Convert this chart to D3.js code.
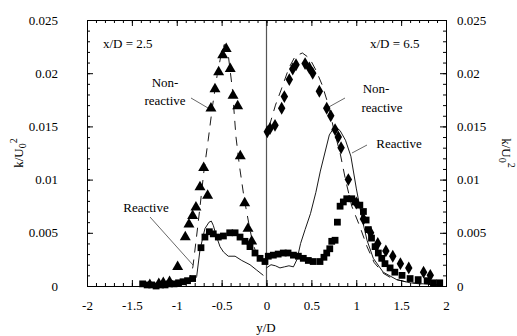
<!DOCTYPE html>
<html><head><meta charset="utf-8">
<script src="https://cdn.jsdelivr.net/npm/d3@7"></script>
<style>body{margin:0;background:#fff}svg{display:block}</style>
</head><body>
<svg id="c" width="517" height="336"></svg>
<script>
// ---- data ----
const xTicks = [-2, -1.5, -1, -0.5, 0, 0.5, 1, 1.5, 2];
const yTicks = [0, 0.005, 0.01, 0.015, 0.02, 0.025];
const yTickLabels = ["0", "0.005", "0.01", "0.015", "0.02", "0.025"];

// x/D = 2.5, non-reactive (triangles)
const tri25X = [-1.3, -1.2, -1.15, -1.08, -0.99, -0.905, -0.864, -0.823, -0.786, -0.741, -0.70, -0.656, -0.619, -0.574, -0.533, -0.488, -0.449, -0.404, -0.373, -0.321, -0.292, -0.243, -0.206, -0.165];
const tri25Y = [0.0001, 0.0002, 0.0003, 0.0004, 0.0018, 0.0046, 0.0058, 0.0066, 0.0074, 0.0093, 0.0111, 0.0085, 0.0167, 0.0185, 0.0201, 0.0217, 0.0223, 0.0204, 0.0179, 0.0169, 0.0122, 0.0078, 0.0054, 0.0042];
// x/D = 2.5, non-reactive dashed curve
const dash25X = [-0.87, -0.82, -0.78, -0.74, -0.70, -0.65, -0.60, -0.55, -0.50, -0.47, -0.43, -0.38, -0.34, -0.30, -0.25, -0.20, -0.16, -0.12];
const dash25Y = [0.0002, 0.0018, 0.0046, 0.0075, 0.0106, 0.0137, 0.0170, 0.0198, 0.0220, 0.0227, 0.0220, 0.0185, 0.0140, 0.0112, 0.0083, 0.0060, 0.0043, 0.0032];
// x/D = 2.5, reactive (squares)
const sq25X = [-1.38, -1.33, -1.28, -1.23, -1.18, -1.13, -1.08, -1.03, -0.98, -0.93, -0.88, -0.823, -0.73, -0.686, -0.637, -0.593, -0.537, -0.48, -0.41, -0.35, -0.295, -0.24, -0.184, -0.128, -0.072, -0.017];
const sq25Y = [0.0002, 0.0001, 0.0001, 0.0000, 0.0001, 0.0001, 0.0002, 0.0002, 0.0003, 0.0004, 0.0005, 0.0007, 0.0036, 0.0046, 0.0051, 0.0049, 0.0046, 0.0047, 0.0050, 0.0050, 0.0046, 0.0042, 0.0037, 0.0031, 0.0026, 0.0023];
// x/D = 2.5, reactive solid curve
const sol25X = [-1.05, -0.95, -0.85, -0.80, -0.778, -0.741, -0.686, -0.64, -0.615, -0.593, -0.555, -0.518, -0.48, -0.426, -0.35, -0.276, -0.184, -0.11, -0.035];
const sol25Y = [0.0001, 0.0002, 0.0004, 0.0006, 0.0009, 0.0034, 0.0054, 0.0060, 0.0061, 0.0057, 0.0046, 0.0037, 0.0032, 0.0028, 0.0028, 0.0024, 0.0020, 0.0015, 0.0010];

// x/D = 6.5, non-reactive (diamonds)
const dia65X = [0.009, 0.039, 0.095, 0.169, 0.199, 0.254, 0.292, 0.329, 0.43, 0.477, 0.515, 0.589, 0.671, 0.716, 0.764, 0.80, 0.831, 0.912, 1.0, 1.08, 1.16, 1.24, 1.33, 1.407, 1.492, 1.585, 1.75, 1.825];
const dia65Y = [0.0145, 0.0148, 0.0151, 0.0167, 0.0178, 0.0194, 0.0204, 0.0208, 0.0209, 0.0205, 0.0200, 0.0183, 0.0167, 0.0160, 0.0147, 0.0140, 0.0130, 0.0100, 0.0078, 0.0063, 0.0050, 0.0040, 0.0033, 0.0028, 0.0021, 0.0017, 0.0013, 0.0010];
// x/D = 6.5, non-reactive dashed curve
const dash65X = [0.03, 0.10, 0.17, 0.25, 0.32, 0.40, 0.48, 0.55, 0.62, 0.69, 0.75, 0.82, 0.88, 0.95, 1.04, 1.12, 1.20, 1.30, 1.40, 1.55, 1.70, 1.90];
const dash65Y = [0.0150, 0.0170, 0.0186, 0.0205, 0.0216, 0.0219, 0.0214, 0.0203, 0.0189, 0.0170, 0.0147, 0.0125, 0.0100, 0.0075, 0.0056, 0.0037, 0.0022, 0.0012, 0.0007, 0.0004, 0.0002, 0.0001];
// x/D = 6.5, reactive (squares)
const sq65X = [0.02, 0.076, 0.13, 0.187, 0.24, 0.30, 0.355, 0.41, 0.466, 0.52, 0.596, 0.64, 0.671, 0.705, 0.727, 0.764, 0.79, 0.82, 0.856, 0.894, 0.95, 0.987, 1.04, 1.08, 1.11, 1.135, 1.17, 1.21, 1.246, 1.284, 1.32, 1.377, 1.43, 1.51, 1.60, 1.69, 1.79, 1.86, 1.93];
const sq65Y = [0.0028, 0.0029, 0.0030, 0.0031, 0.0031, 0.0029, 0.0028, 0.0026, 0.0024, 0.0023, 0.0023, 0.0027, 0.0031, 0.0035, 0.0042, 0.0043, 0.0060, 0.0075, 0.0079, 0.0082, 0.0082, 0.0079, 0.0076, 0.0070, 0.0062, 0.0053, 0.0045, 0.0037, 0.0031, 0.0026, 0.0021, 0.0017, 0.0013, 0.0010, 0.0007, 0.0006, 0.0005, 0.0003, 0.0003];
// x/D = 6.5, reactive solid curve
const sol65X = [0.0, 0.05, 0.10, 0.15, 0.20, 0.25, 0.30, 0.34, 0.38, 0.43, 0.49, 0.55, 0.60, 0.65, 0.70, 0.76, 0.82, 0.88, 0.94, 1.0, 1.06, 1.12, 1.19, 1.30, 1.45, 1.60, 1.75, 1.90];
const sol65Y = [0.0017, 0.0020, 0.0019, 0.0017, 0.0018, 0.0019, 0.0018, 0.0025, 0.0040, 0.0053, 0.0068, 0.0088, 0.0108, 0.0125, 0.0142, 0.0150, 0.0146, 0.0137, 0.0122, 0.0092, 0.0065, 0.0043, 0.0026, 0.0013, 0.0006, 0.0003, 0.0002, 0.0001];

// ---- layout ----
const svg = d3.select("#c");
const L = 87, R = 446, T = 20, B = 286;
const x = d3.scaleLinear().domain([-2, 2]).range([L, R]);
const y = d3.scaleLinear().domain([0, 0.025]).range([B, T]);
const zip = (a, b) => a.map((v, i) => [v, b[i]]);
const FONT = "Liberation Serif";

svg.append("line").attr("x1", x(0)).attr("x2", x(0)).attr("y1", T).attr("y2", B)
  .attr("stroke", "#555").attr("stroke-width", 1.2);

const xMinor = d3.range(-20, 21).map(d => d / 10);
const yMinor = d3.range(0, 26).map(d => d / 1000);
function ax(gen, tx, ty) { return svg.append("g").attr("transform", `translate(${tx},${ty})`).call(gen); }
const fmtY = d => yTickLabels[yTicks.indexOf(d)] ?? "";
const fmtX = d => String(d);

ax(d3.axisBottom(x).tickValues(xMinor).tickSize(-3).tickFormat(""), 0, B);
ax(d3.axisTop(x).tickValues(xMinor).tickSize(-3).tickFormat(""), 0, T);
ax(d3.axisLeft(y).tickValues(yMinor).tickSize(-3).tickFormat(""), L, 0);
ax(d3.axisRight(y).tickValues(yMinor).tickSize(-3).tickFormat(""), R, 0);
ax(d3.axisBottom(x).tickValues(xTicks).tickSize(-6).tickPadding(15).tickFormat(fmtX), 0, B);
ax(d3.axisTop(x).tickValues(xTicks).tickSize(-6).tickFormat(""), 0, T);
ax(d3.axisLeft(y).tickValues(yTicks).tickSize(-6).tickPadding(29).tickFormat(fmtY), L, 0);
ax(d3.axisRight(y).tickValues(yTicks).tickSize(-6).tickPadding(11).tickFormat(fmtY), R, 0);
svg.selectAll("g").attr("font-family", FONT).attr("font-size", 13);
svg.selectAll(".domain").attr("stroke", "#000").attr("stroke-width", 1);
svg.selectAll(".tick line").attr("stroke", "#000");
svg.selectAll(".tick text").attr("font-family", FONT).attr("font-size", 13).attr("fill", "#000");

const line = d3.line().x(d => x(d[0])).y(d => y(d[1]));
const path = (xs, ys, dash) => svg.append("path").attr("d", line(zip(xs, ys))).attr("fill", "none")
  .attr("stroke", "#000").attr("stroke-width", 0.9).attr("stroke-dasharray", dash);
path(dash25X, dash25Y, "9,7");
path(dash65X, dash65Y, "9,7");
path(sol25X, sol25Y, null);
path(sol65X, sol65Y, null);

const sym = (type, size, xs, ys) => svg.append("g").selectAll("path").data(zip(xs, ys)).join("path")
  .attr("transform", d => `translate(${x(d[0])},${y(d[1])})`)
  .attr("d", d3.symbol().type(type).size(size)).attr("fill", "#000");
sym(d3.symbolTriangle, 52, tri25X, tri25Y);
sym(d3.symbolDiamond, 48, dia65X, dia65Y);
sym(d3.symbolSquare, 46, sq25X, sq25Y);
sym(d3.symbolSquare, 46, sq65X, sq65Y);

const txt = (s, tx, ty, anchor = "start") => svg.append("text").attr("x", tx).attr("y", ty).attr("font-size", 13)
  .attr("font-family", FONT).attr("text-anchor", anchor).text(s);
const ptr = (x1, y1, x2, y2) => svg.append("line").attr("x1", x1).attr("y1", y1).attr("x2", x2).attr("y2", y2).attr("stroke", "#000").attr("stroke-width", 0.6);
txt("x/D = 2.5", 103, 48);
txt("x/D = 6.5", 370, 48);
txt("Non-", 165, 87, "middle");
txt("reactive", 165, 105, "middle");
ptr(191, 98, 208, 108);
txt("Non-", 376, 93, "middle");
txt("reactive", 382, 112, "middle");
ptr(327, 108, 345, 98);
txt("Reactive", 399, 148, "middle");
ptr(352, 153, 367, 145);
txt("Reactive", 146, 212, "middle");
ptr(150, 217, 193, 265);

svg.append("text").attr("x", 266).attr("y", 332).attr("font-size", 13).attr("font-family", FONT).attr("text-anchor", "middle").text("y/D");
function kTitle(tx, ty, rot) {
  const t = svg.append("text").attr("transform", `translate(${tx},${ty}) rotate(${rot})`).attr("font-size", 13)
    .attr("font-family", FONT).attr("text-anchor", "middle");
  t.append("tspan").text("k/U");
  t.append("tspan").attr("font-size", 10).attr("dy", 3).text("0");
  t.append("tspan").attr("font-size", 10).attr("dy", -9).text("2");
}
kTitle(23, 153, -90);
kTitle(502, 153, 90);
</script>
</body></html>
